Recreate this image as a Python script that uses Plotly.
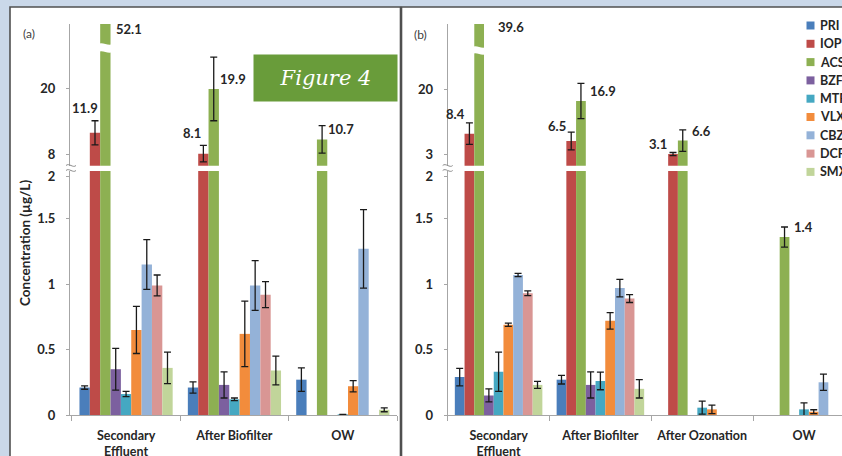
import plotly.graph_objects as go

W, H = 842, 456

# ---------------- data ----------------
series = ["PRI", "IOP", "ACS", "BZF", "MTP", "VLX", "CBZ", "DCF", "SMX"]
colors = ["#4a7ebb", "#be4b48", "#8db052", "#7c609f", "#45a8c2",
          "#f28c3c", "#94b2d8", "#d99694", "#c1d59a"]

cats_a = ["Secondary<br>Effluent", "After Biofilter", "OW"]
PRI_a = [0.21, 0.21, 0.27];   PRI_a_err = [0.013, 0.043, 0.09]
IOP_a = [11.9, 8.1, None];    IOP_a_err = [2.2, 1.5, None]
ACS_a = [52.1, 19.9, 10.7];   ACS_a_err = [None, 5.8, 2.5]
BZF_a = [0.35, 0.23, None];   BZF_a_err = [0.16, 0.10, None]
MTP_a = [0.16, 0.12, 0.005];  MTP_a_err = [0.02, 0.01, None]
VLX_a = [0.65, 0.62, 0.22];   VLX_a_err = [0.18, 0.25, 0.043]
CBZ_a = [1.15, 0.99, 1.27];   CBZ_a_err = [0.19, 0.19, 0.30]
DCF_a = [0.99, 0.92, None];   DCF_a_err = [0.08, 0.10, None]
SMX_a = [0.36, 0.34, 0.04];   SMX_a_err = [0.12, 0.11, 0.015]

cats_b = ["Secondary<br>Effluent", "After Biofilter", "After Ozonation", "OW"]
PRI_b = [0.29, 0.27, None, None];    PRI_b_err = [0.067, 0.033, None, None]
IOP_b = [8.4, 6.5, 3.1, None];       IOP_b_err = [2.8, 2.3, 0.4, None]
ACS_b = [39.6, 16.9, 6.6, 1.36];     ACS_b_err = [None, 4.6, 2.8, 0.077]
BZF_b = [0.15, 0.23, None, None];    BZF_b_err = [0.05, 0.10, None, None]
MTP_b = [0.33, 0.26, 0.056, 0.043];  MTP_b_err = [0.15, 0.067, 0.05, 0.05]
VLX_b = [0.69, 0.72, 0.043, 0.025];  VLX_b_err = [0.012, 0.063, 0.033, 0.015]
CBZ_b = [1.07, 0.97, None, 0.25];    CBZ_b_err = [0.012, 0.067, None, 0.062]
DCF_b = [0.93, 0.89, None, None];    DCF_b_err = [0.018, 0.03, None, None]
SMX_b = [0.23, 0.20, None, None];    SMX_b_err = [0.027, 0.07, None, None]

vals_a = [PRI_a, IOP_a, ACS_a, BZF_a, MTP_a, VLX_a, CBZ_a, DCF_a, SMX_a]
errs_a = [PRI_a_err, IOP_a_err, ACS_a_err, BZF_a_err, MTP_a_err, VLX_a_err,
          CBZ_a_err, DCF_a_err, SMX_a_err]
vals_b = [PRI_b, IOP_b, ACS_b, BZF_b, MTP_b, VLX_b, CBZ_b, DCF_b, SMX_b]
errs_b = [PRI_b_err, IOP_b_err, ACS_b_err, BZF_b_err, MTP_b_err, VLX_b_err,
          CBZ_b_err, DCF_b_err, SMX_b_err]

lower_ticks = [0, 0.5, 1, 1.5]
upper_ticks_a = [8, 20]
upper_ticks_b = [3, 20]

# labelled bars: (series, category index)
labels_a = [("IOP", 0), ("ACS", 0), ("IOP", 1), ("ACS", 1), ("ACS", 2)]
labels_b = [("IOP", 0), ("ACS", 0), ("IOP", 1), ("ACS", 1), ("IOP", 2),
            ("ACS", 2), ("ACS", 3)]

# ---------------- layout helpers ----------------
def px(x):
    return x / W

def py(y):
    return 1 - y / H

BARGAP = 0.14
LOWER_TOP = 1.865
FONT = "Lato"
AXC = "#a6a6a6"
TXT = "#262626"

def offset(i):
    w = (1 - BARGAP) / len(series)
    return -(1 - BARGAP) / 2 + (i + 0.5) * w

def upper_only(vs):
    return [v if (v is not None and v > LOWER_TOP) else None for v in vs]

fig = go.Figure()

panels = [
    (cats_a, vals_a, errs_a, "x", "y", "x2", "y2"),
    (cats_b, vals_b, errs_b, "x3", "y3", "x4", "y4"),
]
for cats, vals, errs, xl, yl, xu, yu in panels:
    for i, s in enumerate(series):
        eb = dict(type="data", array=errs[i], color="#1a1a1a",
                  thickness=1.3, width=3.5, visible=True)
        fig.add_trace(go.Bar(x=cats, y=vals[i], name=s, marker_color=colors[i],
                             marker_line_width=0, error_y=eb, xaxis=xl, yaxis=yl,
                             showlegend=False))
        up = upper_only(vals[i])
        uerr = [e if u is not None else None for u, e in zip(up, errs[i])]
        ebu = dict(type="data", array=uerr, color="#1a1a1a",
                   thickness=1.3, width=3.5, visible=True)
        fig.add_trace(go.Bar(x=cats, y=up, name=s, marker_color=colors[i],
                             marker_line_width=0, error_y=ebu, xaxis=xu, yaxis=yu,
                             showlegend=False))

tickfont = dict(family=FONT, size=13, color=TXT, weight="bold")
xtickfont = dict(family=FONT, size=12.5, color=TXT, weight="bold")

def xax(domain, rng=None, anchor="y", showline=True):
    d = dict(domain=domain, type="category", anchor=anchor, showgrid=False,
             zeroline=False, showline=showline, linecolor=AXC, linewidth=1,
             ticks="outside", tickson="boundaries", ticklen=5, tickcolor=AXC,
             tickfont=xtickfont, ticklabelstandoff=9, tickangle=0, fixedrange=True)
    if rng is not None:
        d["range"] = rng
    return d

def yax(domain, rng, tickvals, ticktext, anchor):
    return dict(domain=domain, range=rng, anchor=anchor, showgrid=False,
                zeroline=False, showline=True, linecolor=AXC, linewidth=1,
                ticks="outside", ticklen=3, tickcolor=AXC, tickvals=tickvals,
                ticktext=ticktext, tickfont=tickfont, ticklabelstandoff=8,
                fixedrange=True)

low_dom = [py(415), py(171)]
up_dom = [py(165.7), py(24)]
xa_dom = [px(70), px(397)]
xb_dom = [px(447.7), 1.0]
xb_rng = [-0.5, -0.5 + (W - 447.7) / 101.8]

low_vals = lower_ticks + [1.82]
low_text = [str(t) for t in lower_ticks] + ["2"]

fig.update_layout(
    xaxis=xax(xa_dom, anchor="y"),
    yaxis=yax(low_dom, [0, LOWER_TOP], low_vals, low_text, "x"),
    xaxis2=dict(xax(xa_dom, anchor="y2"), matches="x", visible=False),
    yaxis2=yax(up_dom, [5.9, 31.76], upper_ticks_a,
               [str(t) for t in upper_ticks_a], "x2"),
    xaxis3=xax(xb_dom, xb_rng, anchor="y3"),
    yaxis3=yax(low_dom, [0, LOWER_TOP], low_vals, low_text, "x3"),
    xaxis4=dict(xax(xb_dom, xb_rng, anchor="y4"), matches="x3", visible=False),
    yaxis4=yax(up_dom, [0.06, 36.96], upper_ticks_b,
               [str(t) for t in upper_ticks_b], "x4"),
)

# ---------------- value labels ----------------
annotations = []
lab_font = dict(family=FONT, size=13, color=TXT, weight="bold")
# placement per label: (mode, xanchor, xshift, yanchor, yshift)
place_a = [("err", "right", 5, "bottom", 3), ("top", "left", 8.5, "middle", 29),
           ("err", "right", 0, "bottom", 2), ("val", "left", 4.3, "middle", 9.7),
           ("err", "left", 4, "middle", -3.5)]
place_b = [("err", "right", -2.4, "bottom", -1.5), ("top", "left", 17, "middle", 26.7),
           ("err", "right", -3, "bottom", -3.4), ("val", "left", 7, "middle", 10.3),
           ("err", "right", -4, "bottom", -1.5), ("err", "left", 7, "middle", -1),
           ("err", "left", 7.5, "middle", 0)]

for labels, place, vals, errs, xu, yu, yl in [
        (labels_a, place_a, vals_a, errs_a, "x2", "y2", "y"),
        (labels_b, place_b, vals_b, errs_b, "x4", "y4", "y3")]:
    for (s, c), (mode, xa, xs, ya, ys) in zip(labels, place):
        i = series.index(s)
        v = vals[i][c]
        e = errs[i][c] or 0
        x = c + offset(i)
        yref = yu if v > LOWER_TOP else yl
        ann = dict(x=x, xref=xu, text=f"{v:.1f}", showarrow=False, font=lab_font,
                   xanchor=xa, yanchor=ya, xshift=xs)
        if mode == "top":
            ann.update(yref="paper", y=py(ys))
        elif mode == "val":
            ann.update(yref=yref, y=v, yshift=ys)
        else:
            ann.update(yref=yref, y=v + e, yshift=ys)
        annotations.append(ann)

# panel letters, axis title, figure tag
annotations += [
    dict(x=px(21), y=py(24), xref="paper", yref="paper", text="(a)", showarrow=False,
         xanchor="left", font=dict(family=FONT, size=12, color="#404040")),
    dict(x=px(412), y=py(25), xref="paper", yref="paper", text="(b)", showarrow=False,
         xanchor="left", font=dict(family=FONT, size=12, color="#404040")),
    dict(x=px(25), y=py(243), xref="paper", yref="paper", text="Concentration (µg/L)",
         showarrow=False, textangle=-90, xanchor="center", yanchor="middle",
         font=dict(family=FONT, size=13.5, color=TXT, weight="bold")),
    dict(x=px(325.5), y=py(54), xref="paper", yref="paper", text="Figure 4",
         showarrow=False, width=141, height=44, bgcolor="#699c3a",
         font=dict(family="DejaVu Serif", size=21, color="white", style="italic")),
]

# manual legend (clipped by the right edge like the reference)
shapes = []
leg_y0, leg_dy = 25.5, 18.3
for i, s in enumerate(series):
    yc = leg_y0 + i * leg_dy
    shapes.append(dict(type="rect", xref="paper", yref="paper",
                       x0=px(806.5), x1=px(814.5), y0=py(yc + 4), y1=py(yc - 4),
                       fillcolor=colors[i], line_width=0, layer="above"))
    annotations.append(dict(x=px(818), y=py(yc), xref="paper", yref="paper",
                            text=s, showarrow=False, xanchor="left", yanchor="middle",
                            font=dict(family=FONT, size=12.5, color=TXT,
                                      weight="bold")))

# panel frames
shapes += [
    dict(type="rect", xref="paper", yref="paper", x0=px(10), x1=px(400.5),
         y0=py(470), y1=py(7), fillcolor="white", line=dict(color="#505050", width=1.6),
         layer="below"),
    dict(type="rect", xref="paper", yref="paper", x0=px(401.5), x1=px(870),
         y0=py(470), y1=py(7), fillcolor="white", line=dict(color="#505050", width=1.6),
         layer="below"),
]

# wavy break on the tallest bars
for xu, c, ya, yb in [("x2", 0, 44, 52), ("x4", 0, 47, 54)]:
    xm = c + offset(series.index("ACS"))
    x0, x1 = xm - 0.07, xm + 0.07
    d = 2.5 / H
    y0, y1 = py(ya), py(yb)
    path = (f"M {x0},{y0} C {xm-0.02},{y0+d} {xm+0.02},{y0-d} {x1},{y0} "
            f"L {x1},{y1} C {xm+0.02},{y1-d} {xm-0.02},{y1+d} {x0},{y1} Z")
    shapes.append(dict(type="path", xref=xu, yref="paper", path=path,
                       fillcolor="white", line_width=0, layer="above"))

# axis break marks
for xa in [71, 447.7]:
    for yb in [165.5, 170.5]:
        p = (f"M {px(xa-5)},{py(yb)} C {px(xa-2)},{py(yb-3)} "
             f"{px(xa+2)},{py(yb+3)} {px(xa+5)},{py(yb)}")
        shapes.append(dict(type="path", xref="paper", yref="paper", path=p,
                           line=dict(color="#8c8c8c", width=1), layer="above"))

fig.update_layout(
    width=W, height=H,
    margin=dict(l=0, r=0, t=0, b=0, autoexpand=False),
    paper_bgcolor="#cad8e9", plot_bgcolor="rgba(0,0,0,0)",
    barmode="group", bargap=BARGAP, bargroupgap=0,
    showlegend=False,
    font=dict(family=FONT, size=13, color=TXT),
    annotations=annotations, shapes=shapes,
)

fig.write_html("out.html",
               config={"displayModeBar": False, "staticPlot": True},
               post_script="document.body.style.margin='0px';"
                           "document.body.style.overflow='hidden';")
